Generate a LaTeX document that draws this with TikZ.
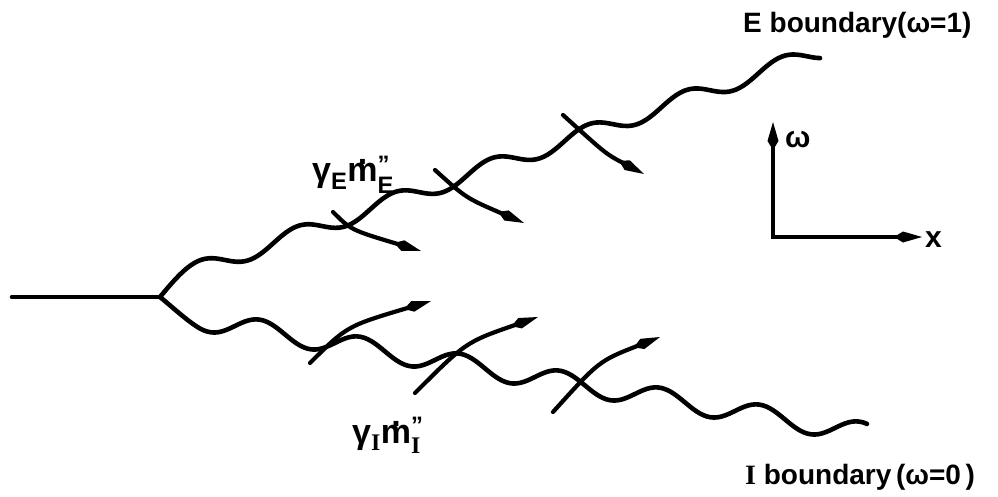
\documentclass[tikz,border=0pt]{standalone}
\usepackage{fontspec}
\usepackage{amsmath}
\setmainfont{Liberation Sans}
\newfontfamily\serfont{Liberation Serif}
\usetikzlibrary{arrows.meta}
\newcommand\mdot{\ooalign{m\cr\hidewidth\raisebox{0.5em}{.}\hidewidth\cr}}
\begin{document}
\begin{tikzpicture}[x=1pt,y=-1pt,
  spindle/.tip={Kite[length=28pt,width=11pt,inset=9pt]},
  curve/.style={line width=4.6pt, line cap=round, line join=round},
  flux/.style={line width=4.2pt, line cap=round, -spindle},
  axes/.style={line width=4.2pt, spindle-spindle},
  lab/.style={font=\fontsize{28}{30}\selectfont\bfseries, inner sep=0pt},
  sym/.style={font=\fontsize{30}{32}\selectfont\bfseries, inner sep=0pt},
  big/.style={font=\fontsize{34}{36}\selectfont\bfseries, inner sep=0pt},
]
\useasboundingbox (0,0) rectangle (998,497);
% stem
\coordinate (L) at (12,297);
\coordinate (B) at (160,297);
\draw[curve] (L) -- (B);
% E boundary
\coordinate (Ej) at (195,262.6);
\draw[curve] (B) .. controls (170,285) and (183,269.2) .. (Ej)
  -- plot[domain=195:820, samples=180, smooth]
  (\x, {260 - 0.35*(\x-225) + 8.5*sin(3.71134*(\x-225))});
% I boundary
\coordinate (Ij) at (200,328.5);
\draw[curve] (B) .. controls (170,305) and (188,321.8) .. (Ij)
  -- plot[domain=200:867, samples=180, smooth]
  (\x, {337 + 0.17*(\x-300) + 10.5*sin(3.6*(\x-185))});
% E fluxes
\coordinate (u1s) at (333,212); \coordinate (u1t) at (421,251);
\coordinate (u2s) at (435,170); \coordinate (u2t) at (524,223);
\coordinate (u3s) at (563,115); \coordinate (u3t) at (644,174);
\draw[flux] (u1s) .. controls (351,230) .. (u1t);
\draw[flux] (u2s) .. controls (466,198) .. (u2t);
\draw[flux] (u3s) .. controls (606,154) .. (u3t);
% I fluxes
\coordinate (l1s) at (310,363); \coordinate (l1t) at (431,301);
\coordinate (l2s) at (415,393); \coordinate (l2t) at (538,317);
\coordinate (l3s) at (553,412); \coordinate (l3t) at (660,337);
\draw[flux] (l1s) .. controls (347,326) .. (l1t);
\draw[flux] (l2s) .. controls (466,342) .. (l2t);
\draw[flux] (l3s) .. controls (599,361) .. (l3t);
% axes
\coordinate (O) at (773,237);
\coordinate (W) at (773,122);
\coordinate (X) at (922,237);
\draw[axes] (W) -- (O) -- (X);
\node[sym, anchor=west] (om) at (785,140) {ω};
\node[sym, anchor=west] (xl) at (925,240) {x};
% labels
\node[lab, anchor=base west] (Eb) at (743,33) {E boundary(ω=1)};
\node[lab, anchor=base west] (Ib) at (745,484) {{\serfont\bfseries I} boundary\,(ω=0\,)};
\node[big, anchor=base west] (gE) at (312,182) {γ\textsubscript{E}\mdot$^{\text{''}}_{\text{E}}$};
\node[big, anchor=base west] (gI) at (352,443) {γ\textsubscript{\serfont\bfseries I}\mdot$^{\text{''}}_{\text{\serfont\bfseries I}}$};
\end{tikzpicture}
\end{document}
